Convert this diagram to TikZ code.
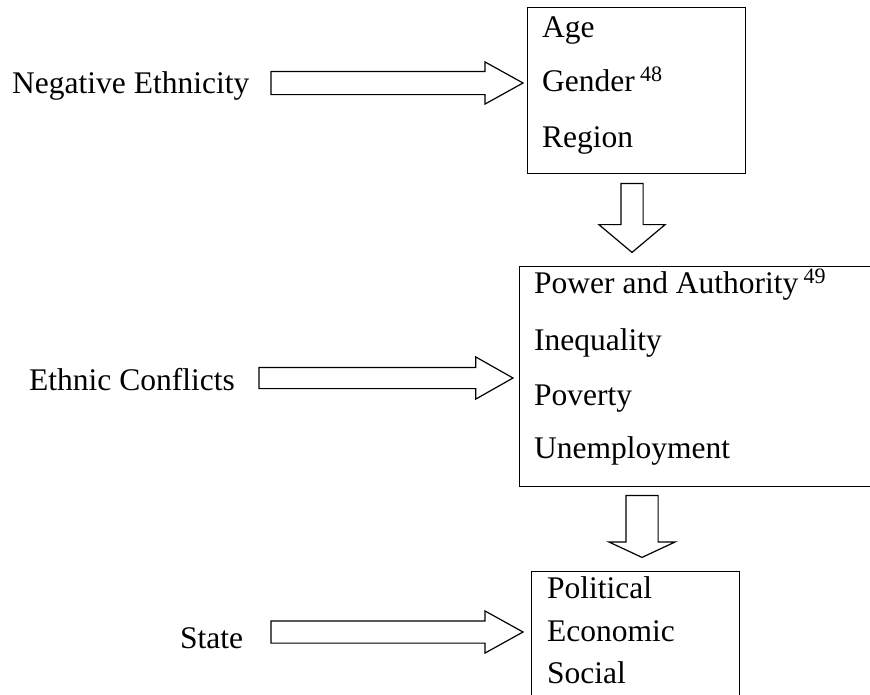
\documentclass[tikz,border=0pt]{standalone}
\usepackage{fontspec}
\setmainfont{Liberation Serif}
\usetikzlibrary{shapes.arrows}

\tikzset{
  lbl/.style={anchor=base west, inner sep=0pt, font=\fontsize{31.5}{38}\selectfont},
  box/.style={draw, line width=1.4pt, anchor=north west, inner sep=0pt},
  fatarrow/.style={single arrow, draw, line width=1.2pt, inner xsep=0pt, outer sep=0pt}
}

\begin{document}
\begin{tikzpicture}[x=1pt, y=-1pt]

\useasboundingbox (0,0) rectangle (870,694);
\clip (0,0) rectangle (870,694);

% boxes
\node[box, minimum width=218pt, minimum height=166pt] (boxa) at (527,7) {};
\node[box, minimum width=370pt, minimum height=220pt] (boxb) at (519,266) {};
\node[box, minimum width=208pt, minimum height=160pt] (boxc) at (531,571) {};

% left labels
\node[lbl] (neg) at (12,93) {Negative Ethnicity};
\node[lbl] (conf) at (29,390) {Ethnic Conflicts};
\node[lbl] (state) at (180,648) {State};

% box contents
\node[lbl] (age) at (542,37) {Age};
\node[lbl] (gender) at (542,91) {Gender\,\textsuperscript{48}};
\node[lbl] (region) at (542,147) {Region};

\node[lbl] (power) at (534,293) {Power and Authority\,\textsuperscript{49}};
\node[lbl] (ineq) at (534,350) {Inequality};
\node[lbl] (pov) at (534,405) {Poverty};
\node[lbl] (unemp) at (534,458) {Unemployment};

\node[lbl] (pol) at (547,598) {Political};
\node[lbl] (eco) at (547,641) {Economic};
\node[lbl] (soc) at (547,683) {Social};

% side arrows
\node[fatarrow, inner ysep=11pt, single arrow head extend=9.5pt,
  single arrow tip angle=58, minimum height=252pt, anchor=tip]
  (arra) at ([xshift=-4pt]boxa.west |- 0,83) {};
\node[fatarrow, inner ysep=10pt, single arrow head extend=10.5pt,
  single arrow tip angle=59, minimum height=254pt, anchor=tip]
  (arrb) at ([xshift=-6pt]boxb.west |- 0,378) {};
\node[fatarrow, inner ysep=10.5pt, single arrow head extend=10pt,
  single arrow tip angle=58, minimum height=252pt, anchor=tip]
  (arrc) at ([xshift=-8pt]boxc.west |- 0,632) {};

% down arrows
\node[fatarrow, rotate=-90, inner ysep=10.5pt, single arrow head extend=22pt,
  single arrow tip angle=100, minimum height=69pt, anchor=tail]
  (downa) at ([yshift=-9pt]boxa.south -| 632,0) {};
\node[fatarrow, rotate=-90, inner ysep=15.5pt, single arrow head extend=17pt,
  single arrow tip angle=130, minimum height=62pt, anchor=tail]
  (downb) at ([yshift=-8pt]boxb.south -| 642,0) {};

\end{tikzpicture}
\end{document}
